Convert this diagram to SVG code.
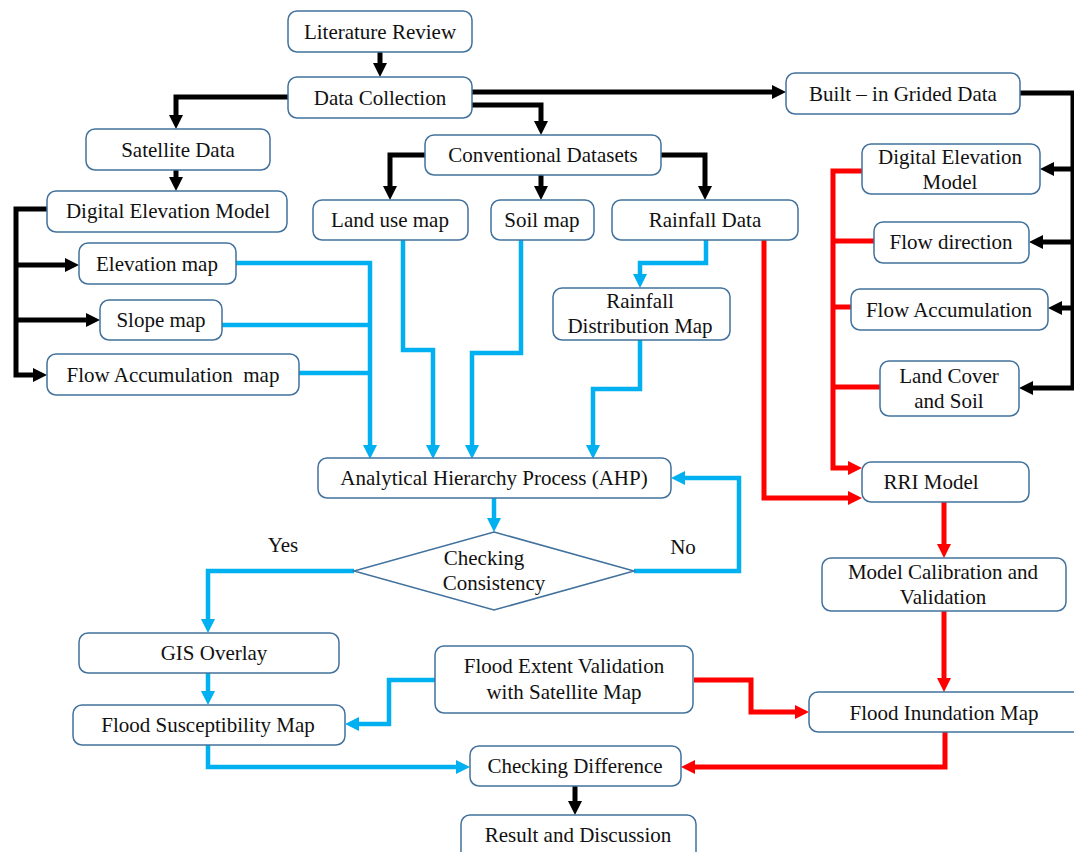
<svg xmlns="http://www.w3.org/2000/svg" width="1074" height="852" viewBox="0 0 1074 852">
<style>
.box{fill:#fff;stroke:#41719C;stroke-width:1.5}
.t{font-family:"Liberation Serif","Times New Roman",serif;font-size:21px;fill:#111;text-anchor:middle}
.k{fill:none;stroke:#000;stroke-width:5}
.b{fill:none;stroke:#00B0F0;stroke-width:4.5}
.r{fill:none;stroke:#FF0000;stroke-width:5}
</style>
<defs>
<marker id="ak" viewBox="0 0 14 14" refX="4" refY="7" markerWidth="14" markerHeight="14" markerUnits="userSpaceOnUse" orient="auto"><path d="M0,0 L14,7 L0,14 z" fill="#000"/></marker>
<marker id="ab" viewBox="0 0 14 14" refX="4" refY="7" markerWidth="14" markerHeight="14" markerUnits="userSpaceOnUse" orient="auto"><path d="M0,0 L14,7 L0,14 z" fill="#00B0F0"/></marker>
<marker id="ar" viewBox="0 0 14 14" refX="4" refY="7" markerWidth="14" markerHeight="14" markerUnits="userSpaceOnUse" orient="auto"><path d="M0,0 L14,7 L0,14 z" fill="#FF0000"/></marker>
</defs>
<rect width="1074" height="852" fill="#fff"/>
<g id="connectors">
<path class="k" d="M380,52 V67" marker-end="url(#ak)"/>
<path class="k" d="M288,97 H176 V119" marker-end="url(#ak)"/>
<path class="k" d="M472,92 H776" marker-end="url(#ak)"/>
<path class="k" d="M472,105 H541 V125" marker-end="url(#ak)"/>
<path class="k" d="M176,170 V181" marker-end="url(#ak)"/>
<path class="k" d="M47,209 H16 V375 H37" marker-end="url(#ak)"/>
<path class="k" d="M16,265 H69" marker-end="url(#ak)"/>
<path class="k" d="M16,320 H90" marker-end="url(#ak)"/>
<path class="k" d="M425,155 H390 V190" marker-end="url(#ak)"/>
<path class="k" d="M541,175 V190" marker-end="url(#ak)"/>
<path class="k" d="M661,155 H705 V190" marker-end="url(#ak)"/>
<path class="k" d="M1020,93 H1073 V388" stroke-width="4"/>
<path class="k" d="M1074,169 H1050" marker-end="url(#ak)"/>
<path class="k" d="M1074,242 H1039" marker-end="url(#ak)"/>
<path class="k" d="M1074,308 H1058" marker-end="url(#ak)"/>
<path class="k" d="M1074,388 H1029" marker-end="url(#ak)"/>
<path class="k" d="M575,786 V805" marker-end="url(#ak)"/>
<path class="b" d="M236,263 H370 V449" marker-end="url(#ab)"/>
<path class="b" d="M222,325 H370"/>
<path class="b" d="M299,373 H370"/>
<path class="b" d="M403,240 V350 H433 V449" marker-end="url(#ab)"/>
<path class="b" d="M521,240 V353 H472 V449" marker-end="url(#ab)"/>
<path class="b" d="M706,240 V263 H640 V278" marker-end="url(#ab)"/>
<path class="b" d="M640,340 V389 H593 V449" marker-end="url(#ab)"/>
<path class="b" d="M494,498 V522" marker-end="url(#ab)"/>
<path class="b" d="M354,571 H208 V623" marker-end="url(#ab)"/>
<path class="b" d="M634,571 H739 V478 H681" marker-end="url(#ab)"/>
<path class="b" d="M208,673 V695" marker-end="url(#ab)"/>
<path class="b" d="M435,680 H389 V724 H355" marker-end="url(#ab)"/>
<path class="b" d="M208,745 V767 H460" marker-end="url(#ab)"/>
<path class="r" d="M764,240 V498 H852" marker-end="url(#ar)"/>
<path class="r" d="M862,171 H833 V468 H852" marker-end="url(#ar)"/>
<path class="r" d="M874,241 H833"/>
<path class="r" d="M851,307 H833"/>
<path class="r" d="M880,387 H833"/>
<path class="r" d="M944,502 V548" marker-end="url(#ar)"/>
<path class="r" d="M944,611 V682" marker-end="url(#ar)"/>
<path class="r" d="M694,680 H751 V712 H799" marker-end="url(#ar)"/>
<path class="r" d="M945,732 V767 H691" marker-end="url(#ar)"/>
</g>
<g id="literature-review"><rect class="box" x="288" y="11" width="184" height="41" rx="9"/><text class="t" x="380" y="38.5">Literature Review</text></g>
<g id="data-collection"><rect class="box" x="288" y="77" width="184" height="41" rx="9"/><text class="t" x="380" y="104.5">Data Collection</text></g>
<g id="built-in-grided-data"><rect class="box" x="786" y="73" width="234" height="41" rx="9"/><text class="t" x="903" y="100.5">Built – in Grided Data</text></g>
<g id="satellite-data"><rect class="box" x="86" y="129" width="184" height="41" rx="9"/><text class="t" x="178" y="156.5">Satellite Data</text></g>
<g id="conventional-datasets"><rect class="box" x="425" y="135" width="236" height="40" rx="9"/><text class="t" x="543" y="162">Conventional Datasets</text></g>
<g id="dem-left"><rect class="box" x="47" y="191" width="240" height="41" rx="9"/><text class="t" x="168" y="218">Digital Elevation Model</text></g>
<g id="land-use-map"><rect class="box" x="313" y="200" width="155" height="40" rx="9"/><text class="t" x="390" y="227">Land use map</text></g>
<g id="soil-map"><rect class="box" x="491" y="200" width="103" height="40" rx="9"/><text class="t" x="542" y="227">Soil map</text></g>
<g id="rainfall-data"><rect class="box" x="612" y="200" width="186" height="40" rx="9"/><text class="t" x="705" y="227">Rainfall Data</text></g>
<g id="dem-right"><rect class="box" x="862" y="144" width="178" height="50" rx="9"/><text class="t" x="950" y="164">Digital Elevation</text><text class="t" x="950" y="189">Model</text></g>
<g id="flow-direction"><rect class="box" x="874" y="222" width="155" height="41" rx="9"/><text class="t" x="951" y="249">Flow direction</text></g>
<g id="flow-accumulation"><rect class="box" x="851" y="289" width="197" height="41" rx="9"/><text class="t" x="949" y="316.5">Flow Accumulation</text></g>
<g id="land-cover-soil"><rect class="box" x="880" y="361" width="139" height="55" rx="9"/><text class="t" x="949" y="383">Land Cover</text><text class="t" x="949" y="408">and Soil</text></g>
<g id="elevation-map"><rect class="box" x="79" y="243" width="157" height="41" rx="9"/><text class="t" x="157" y="271">Elevation map</text></g>
<g id="slope-map"><rect class="box" x="100" y="300" width="122" height="40" rx="9"/><text class="t" x="161" y="327">Slope map</text></g>
<g id="flow-accumulation-map"><rect class="box" x="47" y="354" width="252" height="41" rx="9"/><text class="t" x="173" y="382" style="white-space:pre">Flow Accumulation  map</text></g>
<g id="rainfall-distribution-map"><rect class="box" x="553" y="288" width="177" height="52" rx="9"/><text class="t" x="640" y="308">Rainfall</text><text class="t" x="640" y="333">Distribution Map</text></g>
<g id="ahp"><rect class="box" x="318" y="458" width="353" height="40" rx="9"/><text class="t" x="494" y="485">Analytical Hierarchy Process (AHP)</text></g>
<g id="checking-consistency"><polygon points="494,532 634,571 494,610 354,571" fill="#fff" stroke="#41719C" stroke-width="1.5"/><text class="t" x="484" y="565">Checking</text><text class="t" x="494" y="590">Consistency</text></g>
<g id="yes-label"><text class="t" x="283" y="552">Yes</text></g>
<g id="no-label"><text class="t" x="683" y="554">No</text></g>
<g id="rri-model"><rect class="box" x="862" y="462" width="167" height="40" rx="9"/><text class="t" x="931" y="489">RRI Model</text></g>
<g id="model-calibration"><rect class="box" x="822" y="558" width="244" height="53" rx="9"/><text class="t" x="943" y="579">Model Calibration and</text><text class="t" x="943" y="604">Validation</text></g>
<g id="gis-overlay"><rect class="box" x="79" y="633" width="260" height="40" rx="9"/><text class="t" x="214" y="660">GIS Overlay</text></g>
<g id="flood-extent-validation"><rect class="box" x="435" y="646" width="258" height="67" rx="9"/><text class="t" x="564" y="673">Flood Extent Validation</text><text class="t" x="564" y="699">with Satellite Map</text></g>
<g id="flood-susceptibility-map"><rect class="box" x="73" y="705" width="272" height="40" rx="9"/><text class="t" x="208" y="732">Flood Susceptibility Map</text></g>
<g id="flood-inundation-map"><rect class="box" x="809" y="692" width="280" height="40" rx="9"/><text class="t" x="944" y="720">Flood Inundation Map</text></g>
<g id="checking-difference"><rect class="box" x="470" y="746" width="211" height="40" rx="9"/><text class="t" x="575" y="773">Checking Difference</text></g>
<g id="result-discussion"><rect class="box" x="461" y="815" width="235" height="50" rx="9"/><text class="t" x="578" y="842">Result and Discussion</text></g>
</svg>
